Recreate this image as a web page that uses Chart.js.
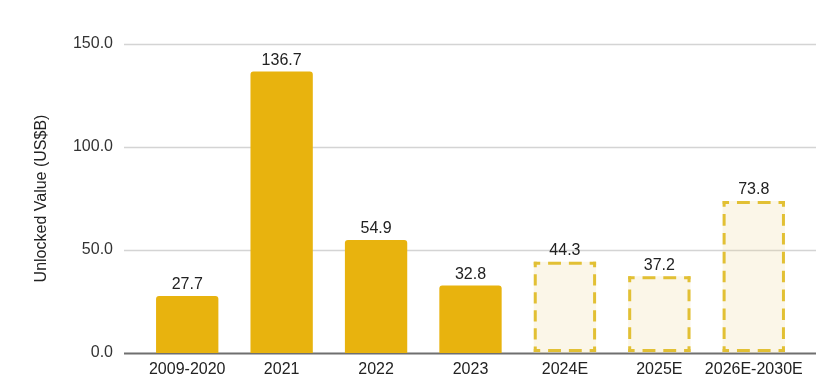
<!DOCTYPE html>
<html>
<head>
<meta charset="utf-8">
<script src="https://cdn.jsdelivr.net/npm/chart.js@4.4.1/dist/chart.umd.min.js"></script>
<style>
  html, body { margin: 0; padding: 0; background: #fff; }
  #wrap { width: 832px; height: 384px; }
</style>
</head>
<body>
<div id="wrap"><canvas id="myChart" width="832" height="384"></canvas></div>
<script>
// datos
var categorias = ["2009-2020", "2021", "2022", "2023", "2024E", "2025E", "2026E-2030E"];
var valores = [27.7, 136.7, 54.9, 32.8, 44.3, 37.2, 73.8];
var estimado = [false, false, false, false, true, true, true];
var ticksY = [0, 50, 100, 150];

var amarillo = "#E8B30E";
var crema = "rgba(236, 212, 140, 0.2)";
var bordeDash = "#E2C034";
var fuente = "'Liberation Sans', Arial, sans-serif";

// lineas de la grilla, un poco mas largas que el area del grafico
var grilla = {
  id: "grilla",
  beforeDatasetsDraw: function (chart) {
    var ctx = chart.ctx, area = chart.chartArea, y = chart.scales.y;
    ctx.save();
    ticksY.forEach(function (v) {
      var py = Math.round(y.getPixelForValue(v)) + 0.5;
      ctx.beginPath();
      ctx.strokeStyle = v === 0 ? "#6f6f6f" : "#d4d4d4";
      ctx.lineWidth = v === 0 ? 2 : 1.5;
      ctx.moveTo(area.left - 16, py);
      ctx.lineTo(area.right + 15, py);
      ctx.stroke();
    });
    ctx.restore();
  }
};

// un lado punteado con medio trazo en cada esquina
function lado(ctx, x1, y1, x2, y2) {
  var L = Math.hypot(x2 - x1, y2 - y1);
  var k = Math.max(1, Math.round(L / 20));
  var u = L / k;
  ctx.setLineDash([u * 0.62, u * 0.38]);
  ctx.lineDashOffset = u * 0.31;
  ctx.beginPath();
  ctx.moveTo(x1, y1);
  ctx.lineTo(x2, y2);
  ctx.stroke();
}

// borde punteado para las barras estimadas y etiquetas de valor
var extras = {
  id: "extras",
  afterDatasetsDraw: function (chart) {
    var ctx = chart.ctx;
    var meta = chart.getDatasetMeta(0);
    ctx.save();
    meta.data.forEach(function (bar, i) {
      var left = bar.x - bar.width / 2, right = bar.x + bar.width / 2;
      if (estimado[i]) {
        var lw = 3;
        var l = left + lw / 2, rt = right - lw / 2, t = bar.y + lw / 2, b = bar.base - 1 - lw / 2;
        ctx.lineWidth = lw;
        ctx.lineCap = "butt";
        ctx.strokeStyle = bordeDash;
        lado(ctx, l - lw / 2, t, rt + lw / 2, t);
        lado(ctx, l, t - lw / 2, l, b + lw / 2);
        lado(ctx, rt, t - lw / 2, rt, b + lw / 2);
        lado(ctx, l - lw / 2, b, rt + lw / 2, b);
        ctx.setLineDash([]);
      }
      ctx.fillStyle = "#222";
      ctx.font = "16px " + fuente;
      ctx.textAlign = "center";
      ctx.textBaseline = "bottom";
      ctx.fillText(valores[i].toFixed(1), bar.x, bar.y - 3);
    });
    ctx.restore();
  }
};

var graficar = document.getElementById("myChart").getContext("2d");
var myChart = new Chart(graficar, {
  type: "bar",
  data: {
    labels: categorias,
    datasets: [
      {
        label: "Unlocked Value",
        data: valores,
        backgroundColor: estimado.map(function (e) { return e ? crema : amarillo; }),
        borderWidth: 0,
        borderRadius: { topLeft: 3, topRight: 3, bottomLeft: 0, bottomRight: 0 },
        borderSkipped: false,
        barPercentage: 0.66,
        categoryPercentage: 1
      }
    ]
  },
  plugins: [grilla, extras],
  options: {
    responsive: false,
    animation: false,
    layout: { padding: { top: 44, right: 31, bottom: 0, left: 0 } },
    plugins: {
      legend: { display: false },
      tooltip: { enabled: false }
    },
    scales: {
      x: {
        grid: { display: false, drawTicks: false },
        border: { display: false },
        ticks: { color: "#222", font: { family: fuente, size: 16 }, padding: 7, maxRotation: 0, autoSkip: false },
        afterFit: function (s) { s.height = 31; }
      },
      y: {
        min: 0,
        max: 150,
        afterBuildTicks: function (s) { s.ticks = ticksY.map(function (v) { return { value: v }; }); },
        grid: { display: false, drawTicks: false },
        border: { display: false },
        ticks: {
          color: "#333",
          font: { family: fuente, size: 16 },
          padding: 27,
          callback: function (v) { return Number(v).toFixed(1); }
        },
        title: {
          display: true,
          text: "Unlocked Value (US$B)",
          color: "#222",
          font: { family: fuente, size: 16 },
          padding: { top: 32, bottom: 0 }
        },
        afterFit: function (s) { s.width = 140; s.paddingTop = 0; s.paddingBottom = 0; }
      }
    }
  }
});
</script>
</body>
</html>
